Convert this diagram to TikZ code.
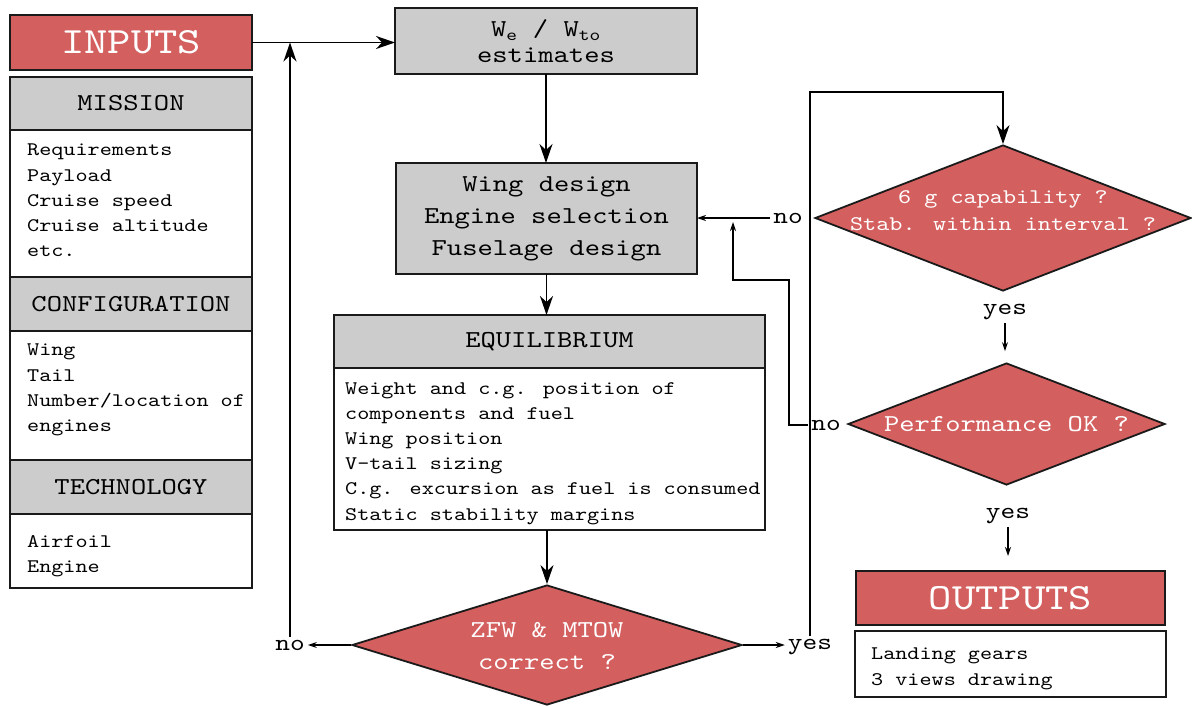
\documentclass[tikz,border=0pt]{standalone}
\usepackage{fontspec}
\setmainfont{lmmono10-regular.otf}[FakeStretch=1.2]
\usetikzlibrary{shapes.geometric,arrows.meta}
\begin{document}
\begin{tikzpicture}[x=1pt, y=-1pt,
    headbox/.style={draw=borderColour, fill=headColour, line width=1.8pt, align=center, inner sep=0pt, outer sep=0pt, font=\headFont},
    redbox/.style={draw=borderColour, fill=redColour, line width=1.8pt, text=white, inner sep=0pt, outer sep=0pt, font=\bigFont},
    listbox/.style={draw=borderColour, fill=white, line width=1.5pt, inner sep=0pt, outer sep=0pt},
    listtext/.style={align=left, inner sep=0pt, anchor=north west, font=\bodyFont},
    decision/.style={diamond, draw=borderColour, fill=redColour, line width=1.8pt, inner sep=0pt},
    decisiontext/.style={text=white, align=center, inner sep=0pt, font=\headFont},
    answer/.style={inner sep=3pt, font=\answerFont},
    bigarrow/.style={-{Stealth[length=19pt, width=13pt, inset=6pt]}, line width=1.5pt},
    smallarrow/.style={-{Stealth[length=9pt, width=6pt]}, line width=1.3pt}]

    % Define colours
    \definecolor{borderColour}{HTML}{1A1A1A}
    \definecolor{headColour}{HTML}{CCCCCC}
    \definecolor{redColour}{HTML}{D45F5F}

    % Define fonts
    \def\bigFont{\fontsize{37}{40}\selectfont}
    \def\headFont{\fontsize{24.3}{32}\selectfont}
    \def\bodyFont{\fontsize{19.2}{25.2}\selectfont}
    \def\answerFont{\fontsize{23.3}{28}\selectfont}
    \def\smallFont{\fontsize{20.8}{27}\selectfont}

    % Fix picture size
    \useasboundingbox (0,0) rectangle (1192,705);

    % Draw inputs column
    \node[redbox, minimum width=242, minimum height=55, anchor=north west] (inputs) at (10,15) {INPUTS};
    \node[headbox, minimum width=242, minimum height=53, anchor=north west] (mission) at (10,77) {MISSION};
    \node[listbox, minimum width=242, minimum height=147, anchor=north] (missionlist) at (mission.south) {};
    \node[listtext] (missiontext) at ([shift={(17,14)}]missionlist.north west)
        {Requirements\\Payload\\Cruise speed\\Cruise altitude\\etc.};
    \node[headbox, minimum width=242, minimum height=54, anchor=north] (config) at (missionlist.south) {CONFIGURATION};
    \node[listbox, minimum width=242, minimum height=129, anchor=north] (configlist) at (config.south) {};
    \node[listtext] (configtext) at ([shift={(17,13)}]configlist.north west)
        {Wing\\Tail\\Number/location of\\engines};
    \node[headbox, minimum width=242, minimum height=54, anchor=north] (techno) at (configlist.south) {TECHNOLOGY};
    \node[listbox, minimum width=242, minimum height=74, anchor=north] (technolist) at (techno.south) {};
    \node[listtext] (technotext) at ([shift={(17,21)}]technolist.north west) {Airfoil\\Engine};

    % Draw main column
    \node[headbox, minimum width=302, minimum height=66, font=\fontsize{24.3}{26}\selectfont] (weights) at (546,41)
        {W\textsubscript{e} / W\textsubscript{to}\\estimates};
    \node[headbox, minimum width=301, minimum height=111] (wing) at (546.5,218.5)
        {Wing design\\Engine selection\\Fuselage design};
    \node[headbox, minimum width=431, minimum height=53, anchor=north] (equil) at (549.5,315) {EQUILIBRIUM};
    \node[listbox, minimum width=431, minimum height=162, anchor=north] (equillist) at (equil.south) {};
    \node[listtext] (equiltext) at ([shift={(11,14)}]equillist.north west)
        {Weight and c.g. position of\\components and fuel\\Wing position\\V-tail sizing\\C.g. excursion as fuel is consumed\\Static stability margins};

    % Draw decisions
    \node[decision, minimum width=390, minimum height=120] (zfw) at (547,645) {};
    \node[decisiontext] (zfwtext) at (547,646) {ZFW \& MTOW\\correct ?};
    \node[decision, minimum width=376, minimum height=146] (sixg) at (1003,218) {};
    \node[decisiontext, font=\smallFont] (sixgtext) at (1003,211) {6 g capability ?\\Stab. within interval ?};
    \node[decision, minimum width=317, minimum height=122] (perf) at (1006.5,424) {};
    \node[decisiontext] (perftext) at (1006.5,424) {Performance OK ?};

    % Draw outputs
    \node[redbox, minimum width=309, minimum height=54] (outputs) at (1010.5,598) {OUTPUTS};
    \node[listbox, minimum width=311, minimum height=66, anchor=north] (outputslist) at (1010.5,631) {};
    \node[listtext] (outputstext) at ([shift={(16,17)}]outputslist.north west) {Landing gears\\3 views drawing};

    % Label answers
    \node[answer] (nozfw) at (290,645) {no};
    \node[answer] (yeszfw) at (810,647) {yes};
    \node[answer] (nosixg) at (788,218) {no};
    \node[answer] (yessixg) at (1005,312) {yes};
    \node[answer] (noperf) at (826,425) {no};
    \node[answer] (yesperf) at (1008,516) {yes};

    % Draw main flow
    \draw[bigarrow] (inputs.east) -- (inputs.east -| weights.west);
    \draw[bigarrow] (weights.south) -- (weights.south |- wing.north);
    \draw[bigarrow] (wing.south) -- (wing.south |- equil.north);
    \draw[bigarrow] (equillist.south -| zfw.north) -- (zfw.north);

    % Draw loops
    \draw[smallarrow] (zfw.west) -- (zfw.west -| nozfw.east);
    \draw[smallarrow] (zfw.east) -- (zfw.east -| yeszfw.west);
    \draw[bigarrow] (nozfw.north) -- (nozfw.north |- inputs.east);
    \coordinate (topcorner) at (810,92);
    \draw[bigarrow] (yeszfw.north) -- (topcorner) -| (sixg.north);
    \draw[smallarrow] (nosixg.west) -- (nosixg.west -| wing.east);
    \draw[smallarrow, shorten >=11pt] (yessixg.south) -- (yessixg.south |- perf.north);
    \draw[smallarrow, shorten >=15pt] (yesperf.south) -- (yesperf.south |- outputs.north);
    \coordinate (wingjoin) at (733,222);
    \draw[smallarrow] (noperf.west) -- (789,425) -- (789,280) -| (wingjoin);

\end{tikzpicture}
\end{document}
